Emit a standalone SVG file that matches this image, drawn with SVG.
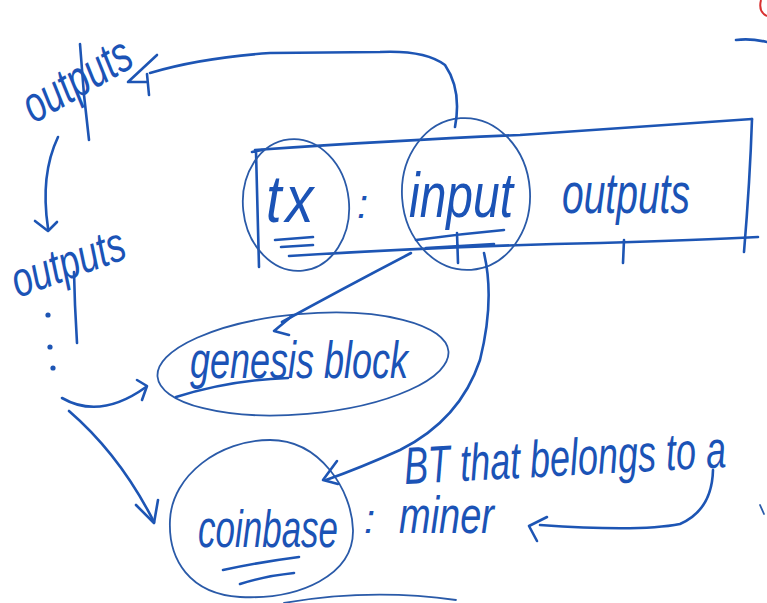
<svg xmlns="http://www.w3.org/2000/svg" width="767" height="603" viewBox="0 0 767 603">
  <defs>
    <style>
      .ink { fill: none; stroke: #1d55b4; stroke-width: 2.6; stroke-linecap: round; stroke-linejoin: round; }
      .thin { fill: none; stroke: #2a5aa8; stroke-width: 1.8; stroke-linecap: round; stroke-linejoin: round; }
      .hand { font-family: "Liberation Sans", "DejaVu Sans", sans-serif; font-style: italic; fill: #1b53b6; }
    </style>
  </defs>
  <rect width="767" height="603" fill="#ffffff"/>

  <!-- list of earlier outputs, left column -->
  <g id="outputs-top">
    <text class="hand" x="0" y="0" font-size="36" transform="translate(34 124) rotate(-30) scale(1 1.4)">outputs</text>
    <path class="ink" d="M80 44 L84 95 L89 140"/>
  </g>
  <g id="outputs-mid">
    <text class="hand" x="0" y="0" font-size="36" transform="translate(18 298) rotate(-20) scale(1 1.35)">outputs</text>
    <path class="ink" d="M74 272 L75 305 L77 343"/>
  </g>
  <g id="ellipsis">
    <circle cx="48" cy="315" r="2.6" fill="#1d55b4"/>
    <circle cx="50" cy="347" r="2.6" fill="#1d55b4"/>
    <circle cx="53" cy="368" r="2.6" fill="#1d55b4"/>
  </g>

  <!-- transaction box -->
  <g id="tx-box">
    <path class="ink" d="M255 150 Q400 140 520 135 Q650 126 752 119"/>
    <path class="ink" d="M752 119 Q750 180 744 252"/>
    <path class="ink" d="M289 256 Q450 246 600 243 Q700 240 758 237"/>
    <path class="ink" d="M252 152 L262 150 M256 151 L259 267"/>
    <path class="ink" d="M624 240 L623 263"/>
  </g>
  <g id="tx">
    <ellipse class="thin" cx="296" cy="205" rx="53" ry="66" transform="rotate(-6 296 205)"/>
    <text class="hand" x="0" y="0" font-size="56" letter-spacing="4" transform="translate(266 222) scale(1 1.2)">tx</text>
    <path class="ink" d="M275 240 L313 237 M281 247 L313 245"/>
    <text class="hand" x="357" y="218" font-size="40">:</text>
  </g>
  <g id="input">
    <ellipse class="thin" cx="466" cy="194" rx="64" ry="76" transform="rotate(-4 466 194)"/>
    <text class="hand" x="0" y="0" font-size="48" transform="translate(409 217) scale(1 1.3)">input</text>
    <path class="ink" d="M416 240 Q460 234 504 230 M426 248 Q460 246 494 244 M457 233 L458 263"/>
  </g>
  <g id="outputs-tx">
    <text class="hand" x="0" y="0" font-size="39" transform="translate(562 213) scale(1 1.45)">outputs</text>
  </g>

  <!-- genesis block -->
  <g id="genesis-block">
    <ellipse class="thin" cx="303" cy="364" rx="146" ry="50" transform="rotate(-5 303 364)"/>
    <text class="hand" x="0" y="0" font-size="36" transform="translate(190 378) scale(1 1.45)">genesis block</text>
    <path class="ink" d="M176 397 Q230 380 288 378"/>
  </g>

  <!-- coinbase -->
  <g id="coinbase">
    <path class="thin" d="M270 440 C320 440 352 490 353 530 C354 575 300 600 240 597 C190 594 168 560 170 520 C172 475 220 440 270 440 Z"/>
    <text class="hand" x="0" y="0" font-size="35" transform="translate(198 547) scale(1 1.5)">coinbase</text>
    <path class="ink" d="M223 570 Q260 562 299 557 M240 584 Q265 576 294 573"/>
  </g>
  <g id="miner">
    <text class="hand" x="364" y="533" font-size="40">:</text>
    <text class="hand" x="0" y="0" font-size="38" transform="translate(399 533) scale(1 1.35)">miner</text>
  </g>
  <g id="note">
    <text class="hand" x="0" y="0" font-size="36" transform="translate(405 484) rotate(-3) scale(1 1.45)">BT that belongs to a</text>
  </g>

  <!-- connectors -->
  <g id="connectors">
    <!-- input back to an earlier output -->
    <path class="ink" d="M455 127 Q462 90 445 65 Q425 50 380 52 L270 53 Q200 58 150 73"/>
    <path class="ink" d="M157 55 L128 82 L147 82 M147 74 L149 95"/>
    <!-- chain of outputs -->
    <path class="ink" d="M58 137 Q40 175 48 228"/>
    <path class="ink" d="M35 221 L48 231 L57 222"/>
    <!-- to genesis block -->
    <path class="ink" d="M62 398 Q100 420 146 387"/>
    <path class="ink" d="M137 380 L147 386 L142 400"/>
    <path class="ink" d="M411 253 Q340 290 282 322"/>
    <path class="ink" d="M292 316 L274 331 L289 335"/>
    <!-- to coinbase -->
    <path class="ink" d="M69 411 Q120 455 154 522"/>
    <path class="ink" d="M136 505 L154 523 L158 500"/>
    <path class="ink" d="M484 253 Q495 300 480 360 Q460 420 400 450 Q360 468 326 480"/>
    <path class="ink" d="M337 461 L323 480 L338 484"/>
    <!-- note to miner -->
    <path class="ink" d="M713 470 Q712 510 680 524 Q640 532 540 525"/>
    <path class="ink" d="M547 517 L529 526 L537 541"/>
  </g>

  <!-- stray marks at the edges -->
  <path class="ink" d="M736 40 Q750 38 767 42"/>
  <path d="M761 0 Q758 12 767 16" fill="none" stroke="#d83030" stroke-width="2"/>
  <path class="thin" d="M284 603 Q370 588 456 600"/>
  <path class="thin" d="M760 505 L764 514"/>
</svg>
